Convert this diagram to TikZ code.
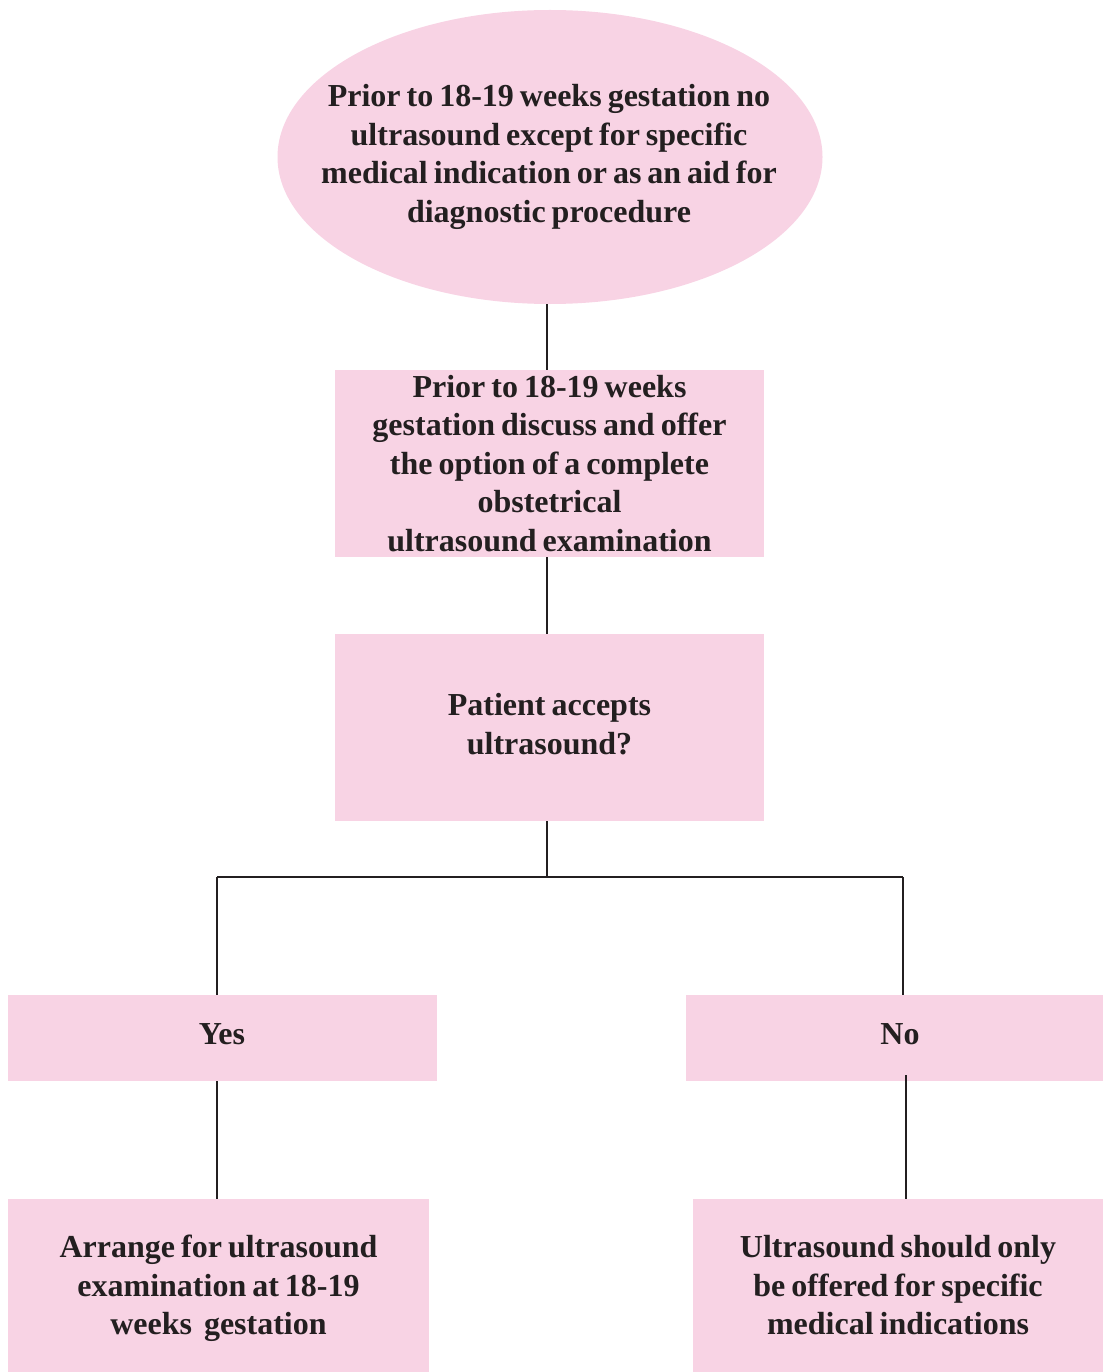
\documentclass[tikz,border=0pt]{standalone}
\usepackage{fontspec}
\setmainfont{Liberation Serif}[WordSpace=0.75]
\usetikzlibrary{shapes.geometric}
\definecolor{boxpink}{HTML}{F8D3E4}
\definecolor{ink}{HTML}{231F20}
\begin{document}
\begin{tikzpicture}[x=1pt,y=-1pt,
  txt/.style={text=ink,font=\bfseries\fontsize{32}{38.5}\selectfont,align=center,inner sep=0pt},
  pbox/.style={txt,fill=boxpink,rectangle},
  conn/.style={draw=ink,line width=2.4pt}]
\useasboundingbox (0,0) rectangle (1103,1372);
\node[fill=boxpink,ellipse,minimum width=545,minimum height=294,inner sep=0pt] (ell) at (550,157) {};
\node[txt] (ellt) at (549,157)
  {Prior to 18-19 weeks gestation no\\ultrasound except for specific\\medical indication or as an aid for\\diagnostic procedure};
\node[pbox,minimum width=429,minimum height=187] (b2) at (549.5,463.5)
  {Prior to 18-19 weeks\\gestation discuss and offer\\the option of a complete\\obstetrical\\ultrasound examination};
\node[pbox,minimum width=429,minimum height=187] (b3) at (549.5,727.5) {};
\node[txt] (b3t) at (549.5,724) {Patient accepts\\ultrasound?};
\node[pbox,minimum width=429,minimum height=86] (yes) at (222.5,1038) {};
\node[txt] (yest) at (222,1034) {Yes};
\node[pbox,minimum width=417,minimum height=86] (no) at (894.5,1038) {};
\node[txt] (not) at (900,1034) {No};
\node[pbox,minimum width=421,minimum height=173] (arr) at (218.5,1285.5) {};
\node[txt] (arrt) at (218.5,1288.5)
  {Arrange for ultrasound\\examination at 18-19\\weeks\ \ gestation};
\node[pbox,minimum width=410,minimum height=173] (only) at (898,1285.5)
  {Ultrasound should only\\be offered for specific\\medical indications};
\coordinate (j) at (547,877);
\coordinate (jl) at (217,877);
\coordinate (jr) at (903,877);
\draw[conn] (ell.south -| j) -- (b2.north -| j);
\draw[conn] (b2.south -| j) -- (b3.north -| j);
\draw[conn] (b3.south -| j) -- (j);
\draw[conn] (jl) -- (jr);
\draw[conn] (jl) -- (jl |- yes.north);
\draw[conn] (jr) -- (jr |- no.north);
\draw[conn] (yes.south -| jl) -- (arr.north -| jl);
\coordinate (nr) at (906,1075);
\draw[conn] (nr) -- (nr |- only.north);
\end{tikzpicture}
\end{document}
